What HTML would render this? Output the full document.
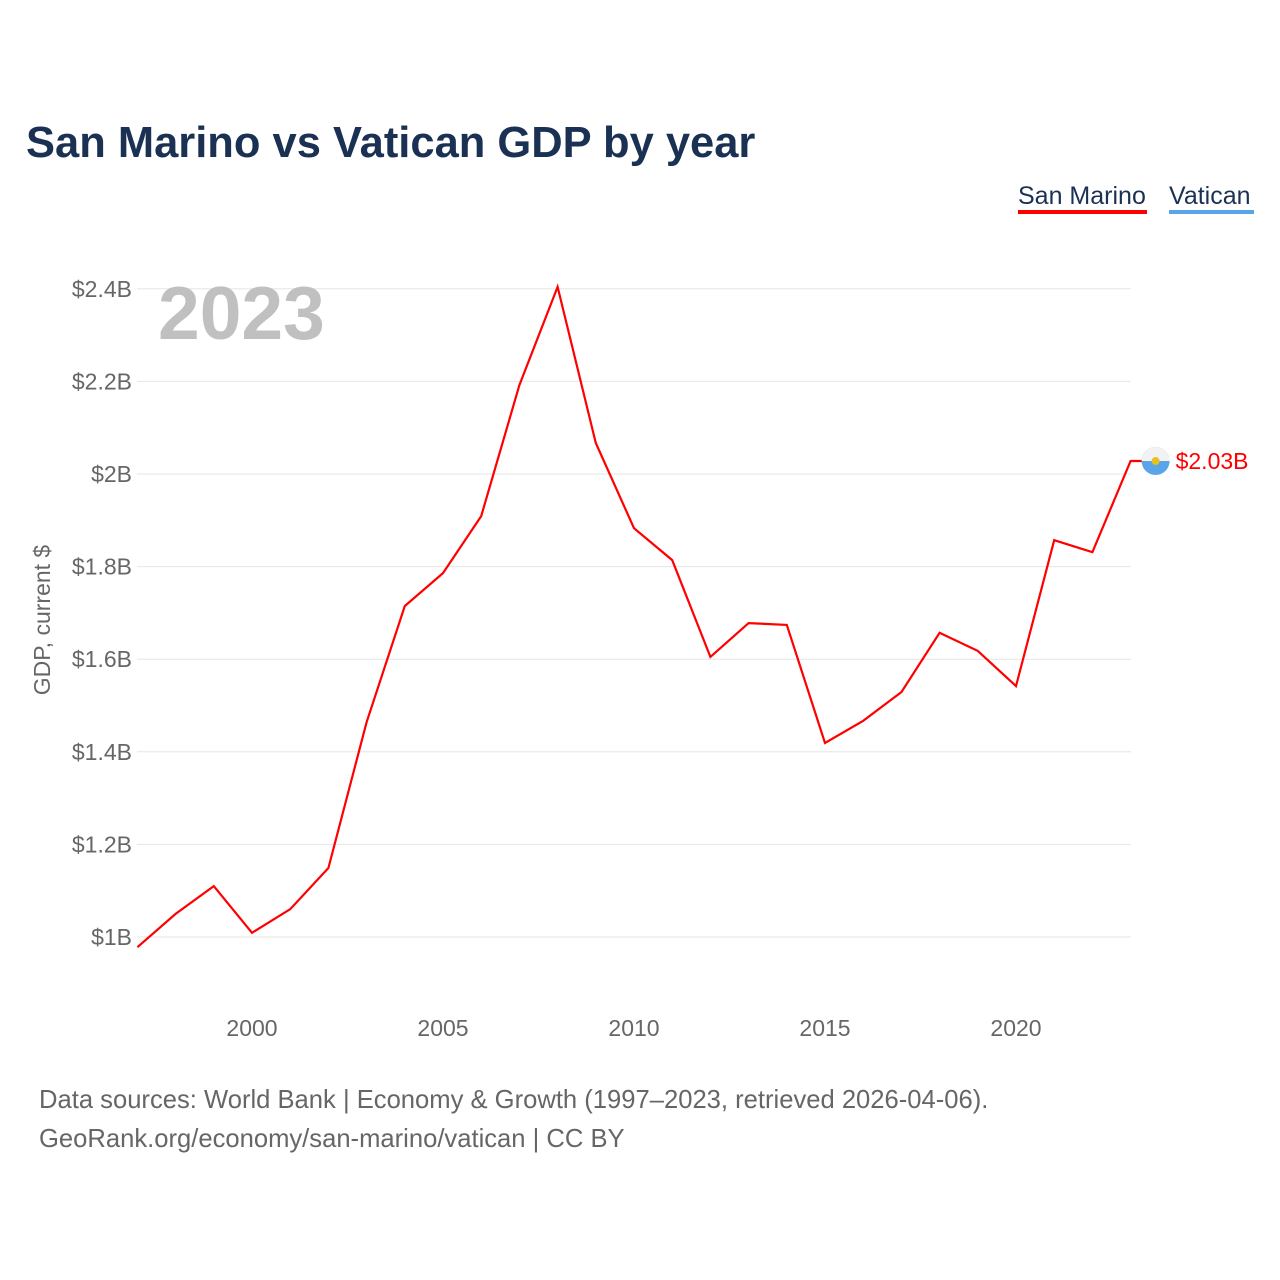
<!DOCTYPE html>
<html><head><meta charset="utf-8"><style>
body{margin:0;background:#fff;font-family:"Liberation Sans",sans-serif;}
svg{display:block}
</style></head><body>
<svg id="chart" width="1280" height="1280" viewBox="0 0 1280 1280">
<text x="26" y="157" font-size="43.5" font-weight="bold" fill="#1b3153">San Marino vs Vatican GDP by year</text>
<g>
<text x="1018" y="204" font-size="25" fill="#1b3153">San Marino</text>
<rect x="1018" y="210" width="129" height="4" fill="#ff0000"/>
<text x="1169" y="204" font-size="25" fill="#1b3153">Vatican</text>
<rect x="1169" y="210" width="85" height="4" fill="#5aa5ea"/>
</g>
<g id="grid"></g>
<text x="158" y="339" font-size="75" font-weight="bold" fill="#c0c0c0">2023</text>
<text transform="translate(50,620) rotate(-90)" text-anchor="middle" font-size="23" fill="#666">GDP, current $</text>
<g id="xt"></g>
<path id="line" fill="none" stroke="#ff0000" stroke-width="2.2"/>
<g id="endmark"></g>
<text x="39" y="1108" font-size="25.6" fill="#666">Data sources: World Bank | Economy &amp; Growth (1997–2023, retrieved 2026-04-06).</text>
<text x="39" y="1147" font-size="25.6" fill="#666">GeoRank.org/economy/san-marino/vatican | CC BY</text>
</svg>
<script>
const years=[1997,1998,1999,2000,2001,2002,2003,2004,2005,2006,2007,2008,2009,2010,2011,2012,2013,2014,2015,2016,2017,2018,2019,2020,2021,2022,2023];
const sanMarino=[0.978,1.05,1.11,1.009,1.06,1.149,1.464,1.715,1.786,1.909,2.192,2.404,2.067,1.883,1.814,1.605,1.678,1.674,1.419,1.467,1.529,1.657,1.618,1.542,1.857,1.831,2.028];
const yTicks=[1,1.2,1.4,1.6,1.8,2,2.2,2.4];
const yTickLabels=["$1B","$1.2B","$1.4B","$1.6B","$1.8B","$2B","$2.2B","$2.4B"];
const xTicks=[2000,2005,2010,2015,2020];
const endLabel="$2.03B";
const NS="http://www.w3.org/2000/svg";
const X=y=>137.4+(y-1997)*38.2;
const Y=v=>937-(v-1)*463;
function el(t,a,p,txt){const e=document.createElementNS(NS,t);for(const k in a)e.setAttribute(k,a[k]);if(txt!=null)e.textContent=txt;p.appendChild(e);return e;}
const grid=document.getElementById('grid');
yTicks.forEach((v,i)=>{
 const l=el('line',{x1:137,x2:1131,y1:Y(v),y2:Y(v),stroke:'#e6e6e6','stroke-width':1},grid);
 
 
 const t=el('text',{x:132,y:Y(v)+8,'text-anchor':'end','font-size':23,fill:'#666'},grid,yTickLabels[i]);
 
 
});
const xt=document.getElementById('xt');
xTicks.forEach(yr=>{
 const t=el('text',{x:X(yr),y:1036,'text-anchor':'middle','font-size':23,fill:'#666'},xt,String(yr));
 
 
});
let d=years.map((yr,i)=>(i?'L':'M')+X(yr).toFixed(1)+','+Y(sanMarino[i]).toFixed(1)).join(' ');
const lastY=Y(sanMarino[sanMarino.length-1]);
d+=' L'+(X(years[years.length-1])+25)+','+lastY.toFixed(1);
document.getElementById('line').setAttribute('d',d);
const em=document.getElementById('endmark');
const fx=X(years[years.length-1])+25;
const c1=el('circle',{cx:fx,cy:lastY,r:14,fill:'#5aa5ea'},em);


el('path',{d:`M${fx-14},${lastY} A14,14 0 0 1 ${fx+14},${lastY} Z`,fill:'#f2f2f2'},em);
el('circle',{cx:fx,cy:lastY,r:4,fill:'#e8c020'},em);
const lt=el('text',{x:fx+20,y:lastY+8,'font-size':23,fill:'#ff0000'},em,endLabel);


</script>
</body></html>
